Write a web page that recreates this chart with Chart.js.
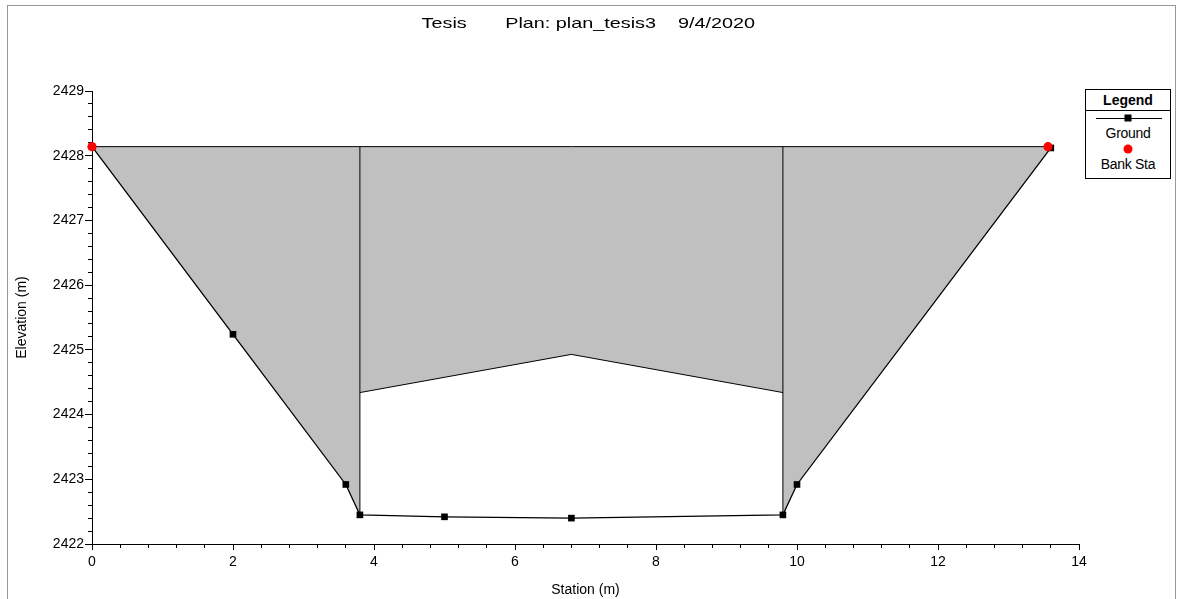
<!DOCTYPE html>
<html>
<head>
<meta charset="utf-8">
<title>Tesis - plan_tesis3</title>
<script src="https://cdn.jsdelivr.net/npm/chart.js@4.4.1/dist/chart.umd.min.js"></script>
<style>
  body { margin: 0; background: #fff; font-family: 'Liberation Sans', Arial, sans-serif; color: #000; }
  #wrap { position: relative; width: 1178px; height: 599px; overflow: hidden; }
  #frame { position: absolute; left: 7px; top: 5px; width: 1167px; height: 640px; border: 1px solid #999; }
  #chart { position: absolute; left: 0; top: 0; }
  #title { position: absolute; left: 0; width: 1176px; top: 15px; text-align: center; font-size: 15px; line-height: 15px; }
  #title span { display: inline-block; white-space: pre; transform: scaleX(1.32); }
  #legend { position: absolute; left: 1085px; top: 89px; width: 84px; height: 88px; border: 1px solid #000; background: #fff; font-size: 14px; }
  #legend .head { height: 20px; line-height: 20px; border-bottom: 1px solid #000; text-align: center; font-weight: bold; }
  #legend .sym { position: relative; height: 14px; }
  #legend .txt { height: 17px; line-height: 17px; text-align: center; letter-spacing: -0.3px; }
  #legend .ln { position: absolute; left: 10px; right: 8px; top: 7px; border-top: 1px solid #000; }
  #legend .mk { position: absolute; left: 50%; top: 50%; transform: translate(-50%, -50%); }
</style>
</head>
<body>
<div id="wrap">
  <div id="frame"></div>
  <canvas id="chart" width="1178" height="599"></canvas>
  <div id="title"><span>Tesis       Plan: plan_tesis3    9/4/2020</span></div>
  <div id="legend">
    <div class="head">Legend</div>
    <div id="legendItems"></div>
  </div>
</div>
<script>
// cross section
const groundStation = [0, 2, 3.6, 3.8, 5, 6.8, 9.8, 10, 13.6];
const groundElev = [2428.14, 2425.24, 2422.92, 2422.45, 2422.42, 2422.40, 2422.45, 2422.92, 2428.12];

const bankStation = [0, 13.56];
const bankElev = [2428.14, 2428.14];

// water surface line across the top
const wsStation = [0, 13.6];
const wsElev = [2428.14, 2428.14];

// lower edge of the grey area between the two walls
const lidStation = [3.8, 6.8, 9.8];
const lidElev = [2424.34, 2424.93, 2424.34];

const xTicks = [0, 2, 4, 6, 8, 10, 12, 14];
const yTicks = [2422, 2423, 2424, 2425, 2426, 2427, 2428, 2429];

const pts = (xs, ys) => xs.map((x, i) => ({ x: x, y: ys[i] }));

const ground = pts(groundStation, groundElev);
const lid = pts(lidStation, lidElev);
const ws = pts(wsStation, wsElev);

const leftEdge = lidStation[0];
const rightEdge = lidStation[lidStation.length - 1];
const groundAt = s => groundElev[groundStation.indexOf(s)];

// grey area outline: ground left, lid, ground right, back along the water surface
const area = ground.filter(p => p.x <= leftEdge)
  .concat(lid)
  .concat(ground.filter(p => p.x >= rightEdge))
  .concat(ws.slice().reverse());

const wallLeft = [{ x: leftEdge, y: groundAt(leftEdge) }, { x: leftEdge, y: wsElev[0] }];
const wallRight = [{ x: rightEdge, y: groundAt(rightEdge) }, { x: rightEdge, y: wsElev[1] }];

Chart.defaults.font.family = "'Liberation Sans', Arial, sans-serif";
Chart.defaults.font.size = 14;
Chart.defaults.color = '#000';

const thin = { borderColor: '#000', borderWidth: 1, pointRadius: 0, fill: false, clip: false };

const datasets = [
  { label: 'area', data: area, fill: 'shape', backgroundColor: '#c0c0c0', borderWidth: 0, pointRadius: 0, order: 9 },
  Object.assign({ label: 'WS', data: ws, order: 5 }, thin),
  Object.assign({ label: 'lid', data: lid, order: 5 }, thin),
  Object.assign({ label: 'wallL', data: wallLeft, order: 5 }, thin),
  Object.assign({ label: 'wallR', data: wallRight, order: 5 }, thin),
  {
    label: 'Ground', data: ground, borderColor: '#000', borderWidth: 1.3,
    pointStyle: 'rect', pointRadius: 4.7, pointBackgroundColor: '#000', pointBorderWidth: 0,
    clip: false, order: 2, inLegend: true
  },
  {
    label: 'Bank Sta', data: pts(bankStation, bankElev), showLine: false,
    pointStyle: 'circle', pointRadius: 4.6, pointBackgroundColor: '#ff0000', pointBorderWidth: 0,
    borderColor: '#ff0000', clip: false, order: 1, inLegend: true
  }
];

function majorAxis(ticks, extra) {
  return Object.assign({
    type: 'linear',
    weight: 1,
    min: ticks[0],
    max: ticks[ticks.length - 1],
    afterBuildTicks: s => { s.ticks = ticks.map(v => ({ value: v })); },
    border: { color: '#000', width: 1 },
  }, extra);
}

function minorAxis(axis, position, min, max, step, len) {
  return {
    type: 'linear', axis: axis, position: position, weight: 0,
    min: min, max: max,
    ticks: { display: false, stepSize: step },
    grid: { drawOnChartArea: false, tickLength: len, color: '#000' },
    border: { display: false },
    afterFit: s => { if (axis === 'x') s.height = 0; else s.width = 0; }
  };
}

new Chart(document.getElementById('chart').getContext('2d'), {
  type: 'line',
  data: { datasets: datasets },
  options: {
    responsive: false,
    animation: false,
    events: [],
    layout: { padding: { top: 91, right: 99, bottom: 0, left: 0 } },
    plugins: { legend: { display: false }, tooltip: { enabled: false }, title: { display: false } },
    elements: { line: { tension: 0 } },
    scales: {
      x: majorAxis(xTicks, {
        position: 'bottom',
        ticks: { padding: 4, maxRotation: 0, autoSkip: false, callback: v => String(v) },
        grid: { drawOnChartArea: false, tickLength: 6, color: '#000' },
        title: { display: true, text: 'Station (m)', font: { size: 14 }, padding: { top: 0, bottom: 0 } },
        afterFit: s => { s.height = 55; }
      }),
      xMinor: minorAxis('x', 'bottom', xTicks[0], xTicks[xTicks.length - 1], 0.4, 4),
      y: majorAxis(yTicks, {
        position: 'left',
        ticks: { padding: 1, autoSkip: false, callback: v => String(v) },
        grid: { drawOnChartArea: false, tickLength: 7, color: '#000' },
        title: { display: true, text: 'Elevation (m)', font: { size: 14 }, padding: { top: 14, bottom: 0 } },
        afterFit: s => { s.width = 92; }
      }),
      yMinor: minorAxis('y', 'left', yTicks[0], yTicks[yTicks.length - 1], 0.2, 4)
    }
  }
});

// legend box: symbol above the name, like the original
const holder = document.getElementById('legendItems');
datasets.filter(d => d.inLegend).forEach(d => {
  const sym = document.createElement('div');
  sym.className = 'sym';
  if (d.showLine !== false) {
    const ln = document.createElement('div');
    ln.className = 'ln';
    ln.style.borderTopColor = d.borderColor;
    sym.appendChild(ln);
  }
  const mk = document.createElement('div');
  mk.className = 'mk';
  const size = d.pointStyle === 'rect' ? 7 : 9;
  mk.style.width = size + 'px';
  mk.style.height = size + 'px';
  mk.style.background = d.pointBackgroundColor;
  if (d.pointStyle === 'circle') mk.style.borderRadius = '50%';
  sym.appendChild(mk);
  const txt = document.createElement('div');
  txt.className = 'txt';
  txt.textContent = d.label;
  holder.appendChild(sym);
  holder.appendChild(txt);
});
</script>
</body>
</html>
